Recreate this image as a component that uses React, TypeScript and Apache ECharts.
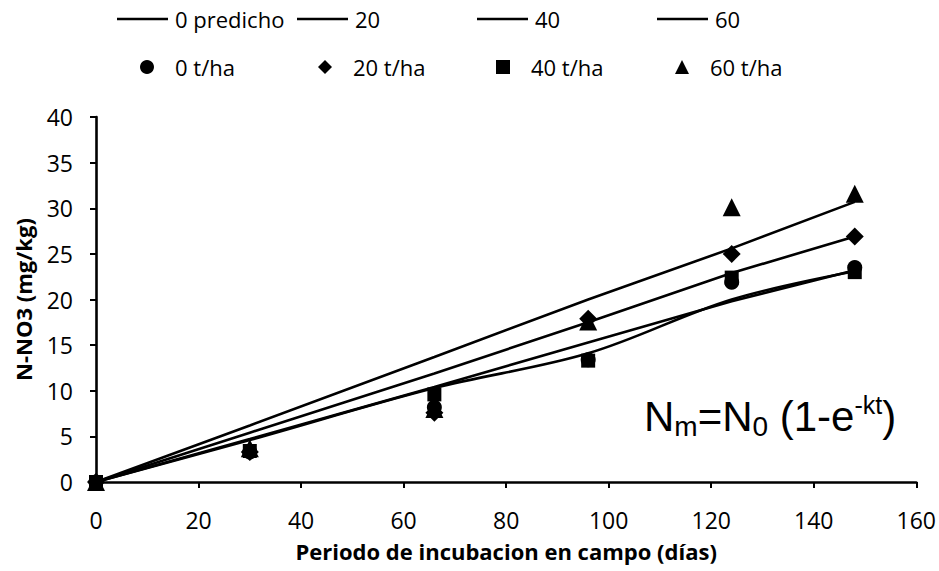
import React, { useEffect, useRef } from "react";
import * as echarts from "echarts";

const days = [0, 30, 66, 96, 124, 148];

const pred0 = [0, 4.7, 10.4, 15.3, 19.8, 23.2];
const pred20 = [0, 5.4, 11.9, 17.5, 22.9, 26.9];
const pred40 = [0, 4.6, 10.3, 14.1, 20.0, 23.1];
const pred60 = [0, 6.2, 13.7, 20.0, 25.6, 30.7];

const obs0 = [0, 3.3, 8.2, 13.4, 21.9, 23.5];
const obs20 = [0, 3.3, 7.6, 17.9, 25.0, 26.9];
const obs40 = [0, 3.4, 9.6, 13.3, 22.4, 23.0];
const obs60 = [0, 3.7, 8.0, 17.6, 30.1, 31.6];

const lineNames = ["0 predicho", "20", "40", "60"];
const markerNames = ["0 t/ha", "20 t/ha", "40 t/ha", "60 t/ha"];

const FONT = "Open Sans";

const pairs = (ys: number[]) => days.map((d, i) => [d, ys[i]]);

export default function App() {
  const ref = useRef<HTMLDivElement>(null);
  useEffect(() => {
    if (!ref.current) return;
    const chart = echarts.init(ref.current, undefined, { renderer: "svg" });
    const lineSeries = [pred0, pred20, pred40, pred60].map((ys, i) => ({
      name: lineNames[i],
      type: "line",
      data: pairs(ys),
      symbol: "none",
      smooth: i === 2 ? 0.35 : false,
      lineStyle: { color: "#000", width: 2.6 },
      itemStyle: { color: "#000" },
      z: 2,
    }));
    const symbols = ["circle", "diamond", "rect", "triangle"];
    const sizes = [15, 18, 14, 18];
    const markerSeries = [obs0, obs20, obs40, obs60].map((ys, i) => ({
      name: markerNames[i],
      type: "scatter",
      data: pairs(ys),
      symbol: symbols[i],
      symbolSize: sizes[i],
      itemStyle: { color: "#000", opacity: 1 },
      z: 3,
    }));
    const legendText = { fontFamily: FONT, fontSize: 22, color: "#000" };
    const lineLegendX = [117, 297, 477, 657];
    const markerLegendX = [140, 318, 496, 675];
    const legends: any[] = [];
    lineNames.forEach((n, i) =>
      legends.push({
        data: [{ name: n, icon: "rect" }],
        left: lineLegendX[i],
        top: 8,
        padding: 0,
        itemWidth: 51,
        itemHeight: 2.5,
        itemGap: 0,
        textStyle: { ...legendText, padding: [0, 0, 0, 2] },
        selectedMode: false,
      })
    );
    markerNames.forEach((n, i) =>
      legends.push({
        data: [n],
        left: markerLegendX[i],
        top: 56,
        padding: 0,
        itemWidth: 14,
        itemHeight: 14,
        itemGap: 0,
        textStyle: { ...legendText, padding: [0, 0, 0, 16] },
        selectedMode: false,
      })
    );
    chart.setOption({
      animation: false,
      backgroundColor: "#fff",
      textStyle: { fontFamily: FONT },
      title: {
        text: "{a|N}{s|m}{a|=N}{s|0}{a| (1-e}{p|-kt}{a|)}",
        left: 644,
        top: 392,
        padding: 0,
        textStyle: {
          fontWeight: "normal",
          rich: {
            a: { fontFamily: "Liberation Sans", fontSize: 42, fontWeight: "normal", color: "#000", lineHeight: 48, verticalAlign: "middle" },
            s: { fontFamily: "Liberation Sans", fontSize: 28, fontWeight: "normal", color: "#000", lineHeight: 48, verticalAlign: "bottom" },
            p: { fontFamily: "Liberation Sans", fontSize: 25, fontWeight: "normal", color: "#000", lineHeight: 48, verticalAlign: "top" },
          },
        },
      },
      legend: legends,
      grid: { left: 96, right: 21, top: 117, bottom: 89, containLabel: false },
      xAxis: {
        type: "value",
        min: 0,
        max: 160,
        interval: 20,
        name: "Periodo de incubacion en campo (días)",
        nameLocation: "middle",
        nameGap: 58,
        nameTextStyle: { fontFamily: FONT, fontSize: 22, fontWeight: "bold", color: "#000" },
        axisLine: { show: true, lineStyle: { color: "#000", width: 2.6 } },
        axisTick: { show: true, inside: false, length: 6, lineStyle: { color: "#000", width: 2 } },
        axisLabel: { fontFamily: FONT, fontSize: 23, color: "#000", margin: 26 },
        splitLine: { show: false },
      },
      yAxis: {
        type: "value",
        min: 0,
        max: 40,
        interval: 5,
        name: "N-NO3 (mg/kg)",
        nameLocation: "middle",
        nameGap: 62,
        nameTextStyle: { fontFamily: FONT, fontSize: 22, fontWeight: "bold", color: "#000" },
        axisLine: { show: true, lineStyle: { color: "#000", width: 2.6 } },
        axisTick: { show: true, inside: false, length: 6, lineStyle: { color: "#000", width: 2 } },
        axisLabel: { fontFamily: FONT, fontSize: 23, color: "#000", margin: 23 },
        splitLine: { show: false },
      },
      series: [...lineSeries, ...markerSeries],
    });
    return () => chart.dispose();
  }, []);
  return (
    <div
      ref={ref}
      style={{ position: "fixed", left: 0, top: 0, width: 939, height: 571 }}
    />
  );
}
